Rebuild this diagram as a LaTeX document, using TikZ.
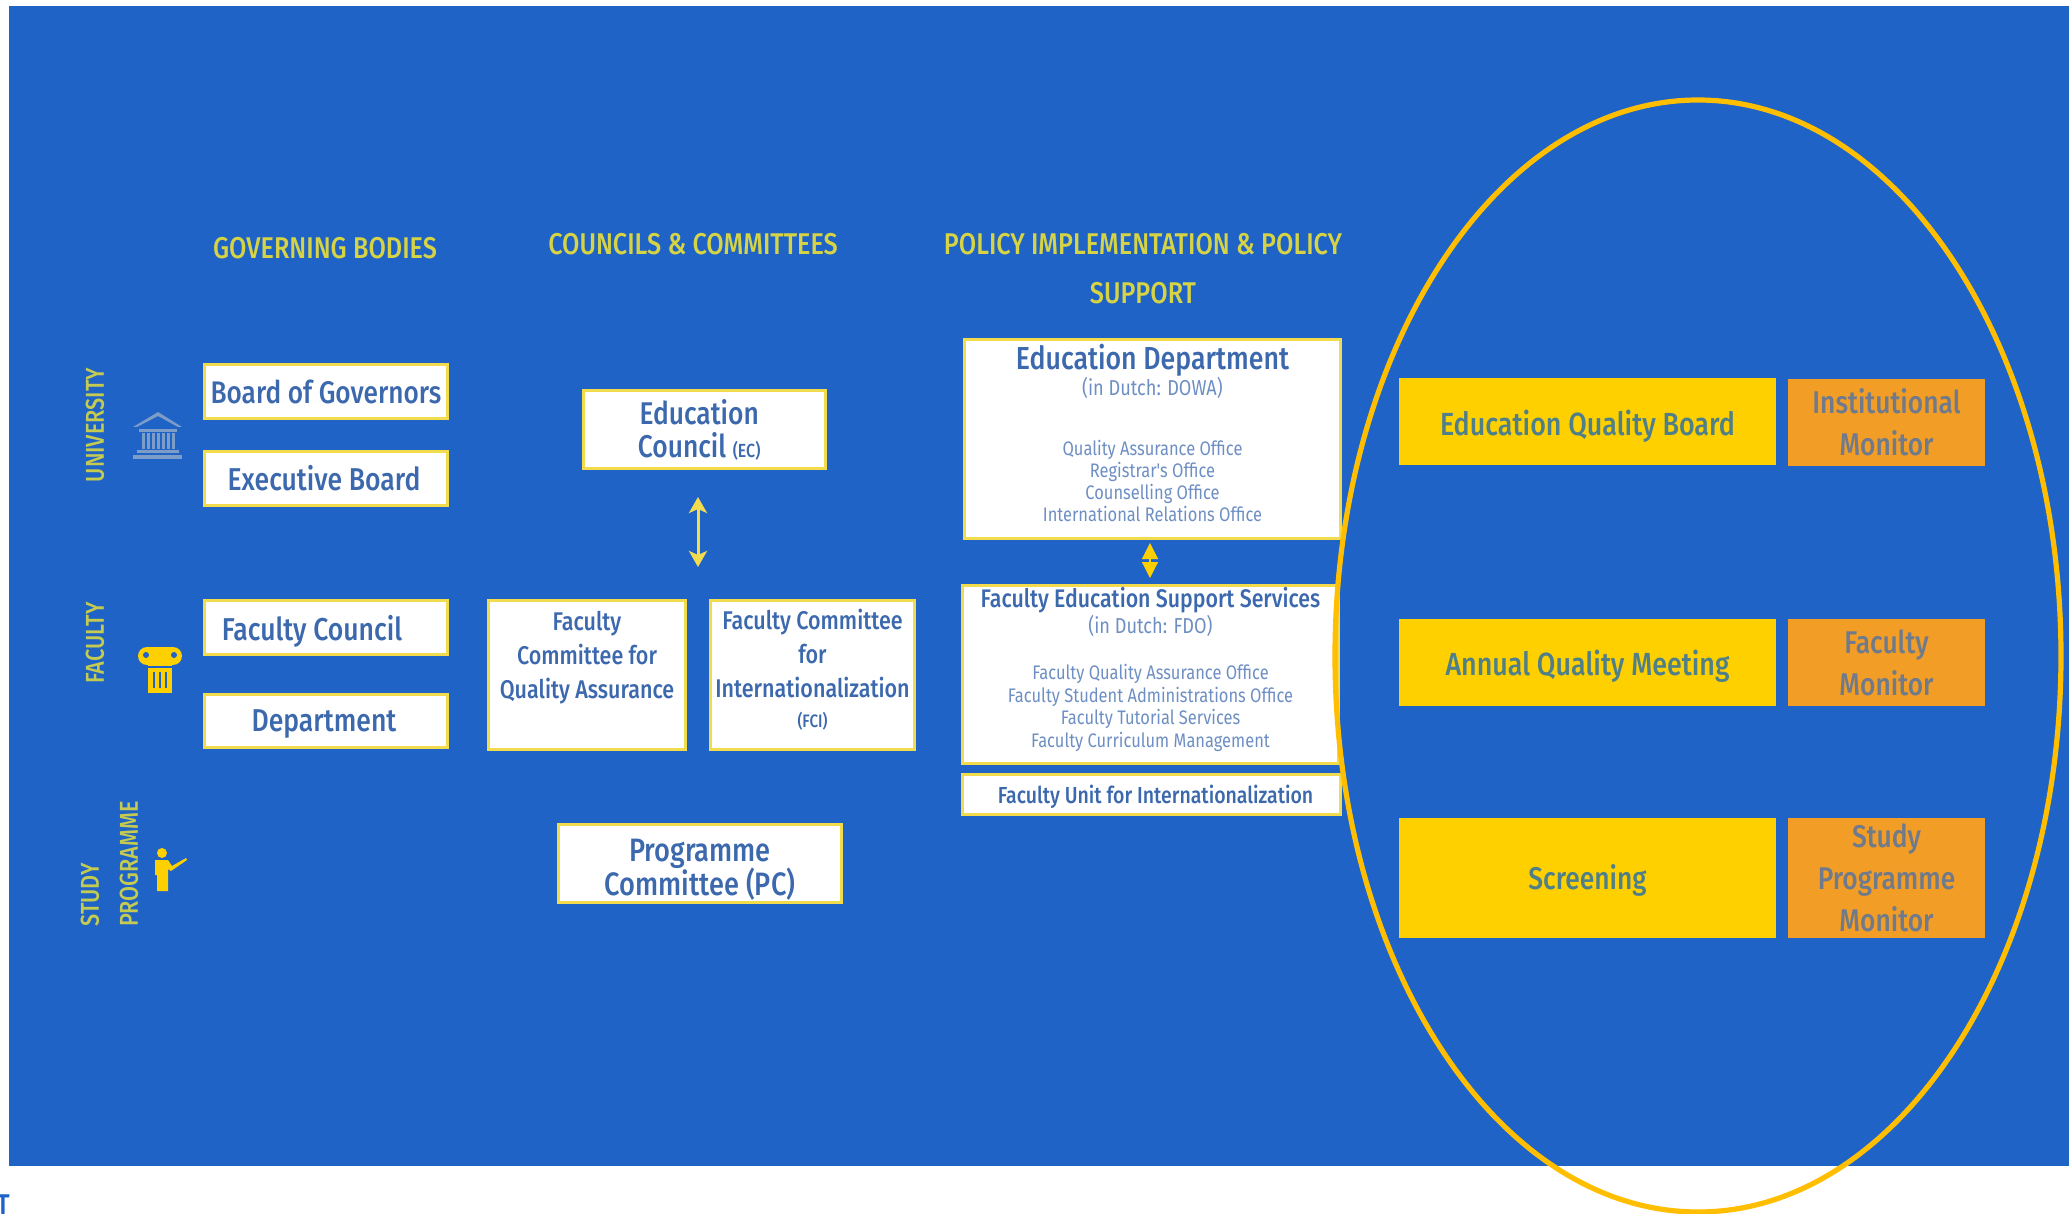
\documentclass[tikz,border=0pt]{standalone}
\usepackage{fontspec}
\setmainfont[FakeStretch=0.84]{Fira Sans Medium}
\newfontfamily\lightf[FakeStretch=0.84]{Fira Sans}
\usetikzlibrary{arrows.meta}
\definecolor{bgblue}{HTML}{1F63C6}
\definecolor{boxline}{HTML}{F2DC4E}
\definecolor{boxtext}{HTML}{3C69AE}
\definecolor{headtext}{HTML}{D6D445}
\definecolor{lefttext}{HTML}{C4CB50}
\definecolor{gold}{HTML}{FFD000}
\definecolor{amber}{HTML}{F29D26}
\definecolor{ringc}{HTML}{FFBE00}
\definecolor{templec}{HTML}{7C9DC8}
\definecolor{softtext}{HTML}{6E8FC4}
\definecolor{orangetext}{HTML}{6F7A8C}
\definecolor{goldtext}{HTML}{4F7F88}
\newcommand{\fs}[2]{\fontsize{#1}{#2}\selectfont}
\tikzset{
  wbox/.style={draw=boxline,line width=1.3pt,fill=white,inner sep=0pt,text=boxtext,align=center},
  gbox/.style={fill=gold,inner sep=0pt,text=goldtext,align=center,font=\fs{16}{17}},
  obox/.style={fill=amber,inner sep=0pt,text=orangetext,align=center,font=\fs{15.7}{21}},
  head/.style={text=headtext,font=\fs{15}{16},inner sep=0pt},
  side/.style={text=lefttext,font=\fs{12.9}{14},inner sep=0pt,rotate=90},
  link/.style={draw=boxline,line width=1.5pt,{Stealth[length=8pt,width=9pt,inset=2pt]}-{Stealth[length=8pt,width=9pt,inset=2pt]}},
  fatlink/.style={draw=gold,fill=gold,line width=0.6pt,{Stealth[length=8pt,width=8pt,inset=0pt]}-{Stealth[length=8pt,width=8pt,inset=0pt]}},
}
\newcommand{\bx}[7]{\node[#6,minimum width={(#4-#2)*0.5pt},minimum height={(#5-#3)*0.5pt}] (#1) at ({(#2+#4)/2},{(#3+#5)/2}) {#7};}
\newcommand{\wb}[7]{\node[wbox,#6,minimum width={(#4-#2)*0.5pt-1.3pt},minimum height={(#5-#3)*0.5pt-1.3pt}] (#1) at ({(#2+#4)/2},{(#3+#5)/2}) {#7};}
\newcommand{\sm}[1]{{\color{softtext}\lightf\fontsize{9.8}{11}\selectfont #1}}
\newcommand{\du}[1]{{\color{softtext}\lightf\fontsize{10.8}{12}\selectfont #1}}
\newcommand{\tallrule}[1]{\rule{0pt}{#1pt}}
\newcommand{\lowrule}[1]{\rule[-#1pt]{0pt}{#1pt}}
\begin{document}
\begin{tikzpicture}[x=0.5pt,y=-0.5pt]
\useasboundingbox (0,0) rectangle (2069,1214);
\clip (0,0) rectangle (2069,1214);
\fill[white] (0,0) rectangle (2069,1214);
\fill[bgblue] (9,6) rectangle (2069,1166);
\node[text=bgblue,inner sep=0pt,anchor=north,font=\fs{15}{18}] (tcut) at (3,1194) {T};

% headers
\node[head] (h1) at (325,248) {GOVERNING BODIES};
\node[head] (h2) at (693,244) {COUNCILS \& COMMITTEES};
\node[head] (h3) at (1143,244) {POLICY IMPLEMENTATION \& POLICY};
\node[head] (h4) at (1143,293) {SUPPORT};

% side labels
\node[side] (s1) at (95,425) {UNIVERSITY};
\node[side] (s2) at (95,643) {FACULTY};
\node[side] (s3) at (90,895) {STUDY};
\node[side] (s4) at (129,864) {PROGRAMME};

% icons
\fill[templec] (133,427) -- (158,412) -- (182,427) -- (178,427) -- (158,416) -- (137,427) -- cycle;
\fill[templec] (139,429) rectangle (177,432);
\foreach \cx in {142,147,152,157,162,167,172}{\fill[templec] (\cx,433) rectangle (\cx+2.6,449);}
\fill[templec] (137,450) rectangle (179,453);
\fill[templec] (133,455) rectangle (182,459);

\fill[gold] (147,656) circle [radius=9];
\fill[gold] (173,656) circle [radius=9];
\fill[gold] (147,647) rectangle (173,662);
\fill[gold] (148,662) rectangle (172,693);
\fill[bgblue] (146,655) circle [radius=3];
\fill[bgblue] (174,655) circle [radius=3];
\foreach \cx in {153,159,165}{\fill[bgblue] (\cx,672) rectangle (\cx+2,688);}
\fill[bgblue] (148,666) rectangle (172,668);

\fill[gold] (162,853) circle [radius=5];
\fill[gold] (155,860) -- (168,860) -- (172,866) -- (186,858) -- (187,860) -- (171,871) -- (168,869) -- (168,891) -- (157,891) -- (157,875) -- (155,875) -- cycle;

% governing bodies
\wb{bog}{203}{363}{449}{420}{font=\fs{15.6}{17}}{Board of Governors}
\wb{exb}{203}{450}{449}{507}{font=\fs{15.8}{17}}{Executive Board\kern2pt}
\wb{fac}{203}{599}{449}{656}{font=\fs{15.8}{17}}{\tallrule{16}Faculty Council\kern14pt}
\wb{dep}{203}{693}{449}{749}{font=\fs{15.8}{17}}{\tallrule{13.5}Department\kern2pt}

% councils
\wb{ec}{582}{389}{827}{470}{font=\fs{15.7}{16.5}}{Education\kern5.3pt\\Council {\fs{9.5}{10}(EC)}\kern5.3pt}
\wb{fcq}{487}{599}{687}{751}{font=\fs{12.8}{17}}{Faculty\\Committee for\\Quality Assurance\\[3pt]}
\wb{fci}{709}{599}{916}{751}{font=\fs{12.8}{17}}{Faculty Committee\\for\\Internationalization\\[-2pt]{\fs{9}{15}(FCI)}\lowrule{7.2}}
\wb{pc}{557}{823}{843}{904}{font=\fs{16.2}{16.5}}{\tallrule{17.5}Programme\\[-1pt]Committee (PC)}
\coordinate (lnkA) at (698,497);
\coordinate (lnkB) at (698,567);
\draw[link] (lnkA) -- (lnkB);

% implementation
\wb{edu}{963}{338}{1342}{540}{font=\fs{15.9}{11}}{Education Department\\[-0.5pt]\du{(in Dutch: DOWA)}\\[19pt]\sm{Quality Assurance Office}\\\sm{Registrar's Office}\\\sm{Counselling Office}\\\sm{International Relations Office}\lowrule{6}}
\wb{fes}{961}{584}{1340}{765}{font=\fs{12.7}{11.2}}{Faculty Education Support Services\\[0pt]\du{(in Dutch: FDO)}\\[12pt]\sm{Faculty Quality Assurance Office}\\\sm{Faculty Student Administrations Office}\\\sm{Faculty Tutorial Services}\\\sm{Faculty Curriculum Management}\lowrule{7.3}}
\wb{fui}{961}{773}{1342}{816}{font=\fs{11.6}{13}}{\tallrule{11.6}\kern4pt Faculty Unit for Internationalization}
\coordinate (lnkC) at (1150,543);
\coordinate (lnkD) at (1150,578);
\draw[fatlink] (lnkC) -- (lnkD);

% right column
\bx{eqb}{1399}{378}{1776}{465}{gbox}{\tallrule{17.2}Education Quality Board}
\bx{inm}{1788}{379}{1985}{466}{obox}{Institutional\\Monitor}
\bx{aqm}{1399}{619}{1776}{706}{gbox}{\tallrule{16}Annual Quality Meeting}
\bx{fam}{1788}{619}{1985}{706}{obox}{Faculty\\Monitor}
\bx{scr}{1399}{818}{1776}{938}{gbox,font=\fs{15.7}{17}}{\tallrule{15}Screening}
\bx{spm}{1788}{818}{1985}{938}{obox}{Study\\Programme\\Monitor}

% ring
\draw[ringc,line width=2.6pt] (1698,656) ellipse [x radius=363,y radius=556];
\end{tikzpicture}
\end{document}
